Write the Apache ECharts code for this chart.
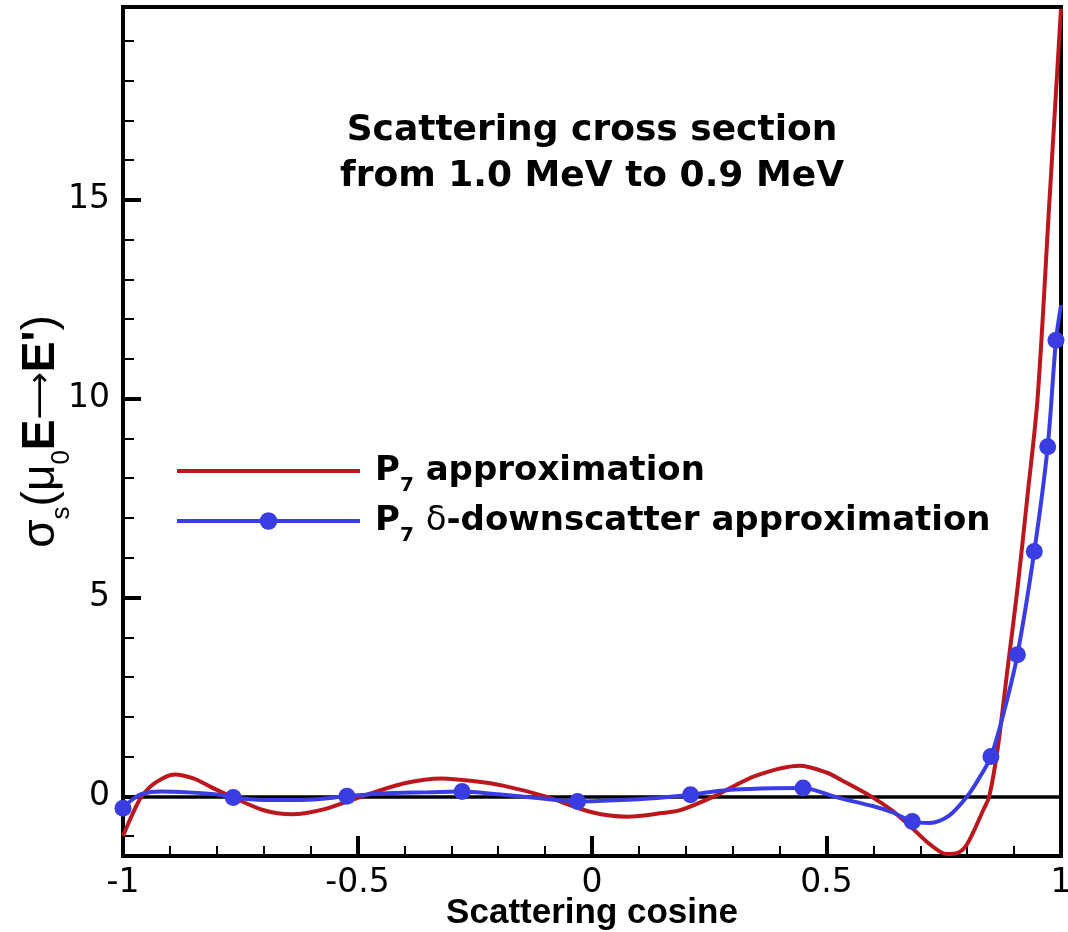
<!DOCTYPE html>
<html><head><meta charset="utf-8">
<script src="https://cdn.jsdelivr.net/npm/echarts@6/dist/echarts.min.js"></script>
<style>html,body{margin:0;padding:0;background:#fff}#c{width:1068px;height:932px}</style>
</head><body><div id="c"></div>
<script>
// ---- data ----
const seriesNames = ['P7 approximation', 'P7 δ-downscatter approximation'];
const legendLabels = ['{b|P}{sub|7}{b| approximation}', '{b|P}{sub|7}{b| }{d|δ}{b|-downscatter approximation}'];
const titleLines = ['Scattering cross section', 'from 1.0 MeV to 0.9 MeV'];
const xAxisName = 'Scattering cosine';
const yAxisName = '{g|σ}{sub|s}{g|(μ}{sub|0}{b|E}{a|⟶}{b|E\'}{g|)}';

const redX = [-1.0, -0.98, -0.96, -0.93, -0.89, -0.85, -0.81, -0.77, -0.70, -0.64, -0.57, -0.49, -0.40, -0.32, -0.25, -0.19, -0.10, 0.0, 0.076, 0.15, 0.19, 0.26, 0.35, 0.443, 0.50, 0.53, 0.595, 0.64, 0.683, 0.72, 0.756, 0.78, 0.80, 0.836, 0.847, 0.865, 0.886, 0.907, 0.928, 0.95, 0.975, 1.0];
const redY = [-1.0, -0.45, 0.0, 0.35, 0.55, 0.45, 0.22, 0.0, -0.35, -0.45, -0.32, 0.0, 0.33, 0.45, 0.38, 0.27, 0.0, -0.40, -0.51, -0.42, -0.34, 0.0, 0.52, 0.77, 0.60, 0.42, 0.0, -0.36, -0.80, -1.20, -1.45, -1.42, -1.20, -0.30, 0.0, 1.2, 3.2, 5.2, 7.5, 10.0, 14.9, 19.8];

const blueX = [-1.0, -0.98, -0.96, -0.92, -0.86, -0.80, -0.765, -0.70, -0.62, -0.5225, -0.45, -0.36, -0.277, -0.20, -0.10, -0.031, 0.05, 0.14, 0.21, 0.28, 0.36, 0.45, 0.52, 0.60, 0.64, 0.683, 0.72, 0.76, 0.80, 0.825, 0.8506, 0.88, 0.907, 0.943, 0.9716, 0.9893, 1.0];
const blueY = [-0.30, -0.08, 0.06, 0.12, 0.10, 0.05, -0.03, -0.09, -0.09, 0.0, 0.07, 0.10, 0.12, 0.05, -0.06, -0.13, -0.10, -0.04, 0.04, 0.15, 0.20, 0.21, -0.02, -0.25, -0.40, -0.63, -0.67, -0.50, 0.0, 0.45, 1.0, 2.2, 3.56, 6.16, 8.79, 11.47, 12.35];
const blueMarker = [1,0,0,0,0,0,1,0,0,1,0,0,1,0,0,1,0,0,1,0,0,1,0,0,0,1,0,0,0,0,1,0,1,1,1,1,0];

const yMajorTicks = [0, 5, 10, 15];
const yMinorTicks = [-1, 1, 2, 3, 4, 6, 7, 8, 9, 11, 12, 13, 14, 16, 17, 18, 19];

// ---- chart ----
const RED = '#bc171d', BLUE = '#3a3ee2';
const redData = redX.map((x, i) => [x, redY[i]]);
const blueData = blueX.map((x, i) => blueMarker[i] ? [x, blueY[i]] : { value: [x, blueY[i]], symbol: 'none' });

const option = {
  animation: false,
  backgroundColor: '#fff',
  title: {
    text: titleLines.join('\n'),
    left: 592, top: 108, textAlign: 'center', padding: 0,
    textStyle: { fontFamily: 'DejaVu Sans', fontWeight: 'bold', fontSize: 36, lineHeight: 46, color: '#000' }
  },
  grid: { left: 123, right: 7, top: 7, bottom: 76, show: true, borderColor: '#000', borderWidth: 4, backgroundColor: 'transparent', containLabel: false, outerBoundsMode: 'none' },
  legend: {
    orient: 'vertical', left: 175, top: 446, padding: 0, itemGap: 0,
    itemWidth: 183, itemHeight: 22,
    lineStyle: { width: 4 },
    data: [{ name: seriesNames[0], itemStyle: { opacity: 0 } }, { name: seriesNames[1] }],
    formatter: (name) => legendLabels[seriesNames.indexOf(name)],
    textStyle: {
      padding: [0, 0, 0, 10], lineHeight: 50,
      rich: {
        b: { fontFamily: 'DejaVu Sans', fontWeight: 'bold', fontSize: 34, lineHeight: 50, color: '#000' },
        d: { fontFamily: 'DejaVu Sans', fontWeight: 'normal', fontSize: 34, lineHeight: 50, color: '#000' },
        sub: { fontFamily: 'DejaVu Sans', fontWeight: 'bold', fontSize: 20, lineHeight: 12, verticalAlign: 'bottom', color: '#000' }
      }
    }
  },
  xAxis: {
    type: 'value', min: -1, max: 1, interval: 0.5,
    name: xAxisName, nameLocation: 'middle', nameGap: 37, nameMoveOverlap: false,
    nameTextStyle: { fontFamily: 'Liberation Sans', fontWeight: 'bold', fontSize: 35, lineHeight: 40, color: '#000' },
    axisLine: { show: true, onZero: false, lineStyle: { color: '#000', width: 4 } },
    axisTick: { show: true, inside: true, length: 20, lineStyle: { color: '#000', width: 4 } },
    minorTick: { show: true, splitNumber: 5, length: 10, lineStyle: { color: '#000', width: 2 } },
    axisLabel: { fontFamily: 'DejaVu Sans', fontSize: 33, color: '#000', margin: 11 },
    splitLine: { show: false }
  },
  yAxis: [{
    type: 'value', min: -1.5, max: 19.85,
    name: yAxisName, nameLocation: 'middle', nameRotate: 90, nameGap: 48, nameMoveOverlap: false,
    nameTextStyle: {
      lineHeight: 68,
      rich: {
        g: { fontFamily: 'Liberation Sans', fontSize: 46, lineHeight: 68, color: '#000' },
        b: { fontFamily: 'Liberation Sans', fontWeight: 'bold', fontSize: 46, lineHeight: 68, color: '#000' },
        a: { fontFamily: 'DejaVu Sans', fontSize: 33, lineHeight: 68, color: '#000' },
        sub: { fontFamily: 'Liberation Sans', fontSize: 26, lineHeight: 2, verticalAlign: 'bottom', color: '#000' }
      }
    },
    axisLine: { show: true, onZero: false, lineStyle: { color: '#000', width: 4 } },
    axisTick: { show: true, inside: true, length: 18, customValues: yMajorTicks, lineStyle: { color: '#000', width: 4 } },
    axisLabel: { fontFamily: 'DejaVu Sans', fontSize: 33, color: '#000', margin: 13, customValues: yMajorTicks },
    splitLine: { show: false }
  }, {
    type: 'value', min: -1.5, max: 19.85, position: 'left', offset: 0, alignTicks: false,
    axisLine: { show: false, onZero: false },
    axisTick: { show: true, inside: true, length: 11, customValues: yMinorTicks, lineStyle: { color: '#000', width: 2 } },
    axisLabel: { show: false },
    splitLine: { show: false }
  }],
  series: [{
    name: seriesNames[0], type: 'line', data: redData, yAxisIndex: 0,
    symbol: 'none', smooth: 0.3, z: 3,
    lineStyle: { color: RED, width: 4 }, itemStyle: { color: RED },
    markLine: {
      silent: true, symbol: ['none', 'none'], label: { show: false },
      lineStyle: { color: '#000', width: 3.5, type: 'solid' },
      data: [{ yAxis: 0 }], z: 2
    }
  }, {
    name: seriesNames[1], type: 'line', data: blueData, yAxisIndex: 0,
    symbol: 'circle', symbolSize: 17, showSymbol: true, showAllSymbol: true,
    smooth: 0.3, z: 4,
    lineStyle: { color: BLUE, width: 4 }, itemStyle: { color: BLUE }
  }]
};

const chart = echarts.init(document.getElementById('c'), null, { renderer: 'canvas' });
chart.setOption(option);
</script></body></html>
